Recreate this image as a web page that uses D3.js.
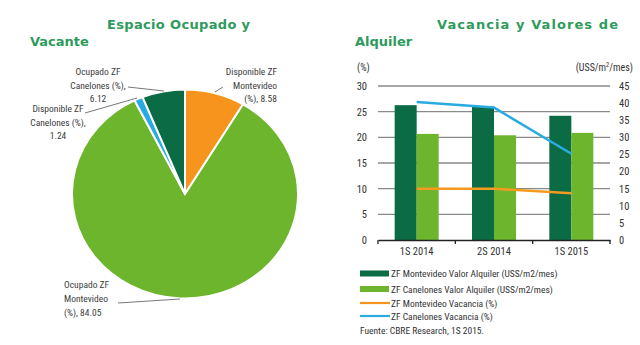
<!DOCTYPE html>
<html><head><meta charset="utf-8">
<script src="https://cdnjs.cloudflare.com/ajax/libs/d3/7.8.5/d3.min.js"></script>
<style>
html,body{margin:0;padding:0;background:#fff;}
svg{display:block;}
.cond{font-family:"Liberation Sans Narrow","Roboto Condensed","Arial Narrow",sans-serif;}
.title{font-family:"DejaVu Sans",sans-serif;font-weight:bold;fill:#2e9b5d;font-size:13px;}
</style>
</head><body>
<svg id="c" width="640" height="345"></svg>
<script>
// ---- Pie data ----
const pieLabels = ["Disponible ZF Montevideo (%)", "Ocupado ZF Montevideo (%)", "Disponible ZF Canelones (%)", "Ocupado ZF Canelones (%)"];
const pieValues = [8.58, 84.05, 1.24, 6.12];
const pieColors = ["#f7941d", "#6cb52d", "#29abe2", "#0b6b45"];

// ---- Bar/line data ----
const periods = ["1S 2014", "2S 2014", "1S 2015"];
const mvdAlquiler = [39.4, 38.9, 36.3];
const canAlquiler = [31.0, 30.6, 31.3];
const mvdVacancia = [10.0, 10.0, 9.1];
const canVacancia = [26.9, 25.8, 16.8];
const leftTicks = [0, 5, 10, 15, 20, 25, 30];
const rightTicks = [0, 5, 10, 15, 20, 25, 30, 35, 40, 45];
const legendItems = [
  {label: "ZF Montevideo Valor Alquiler (USS/m2/mes)", type: "bar", color: "#0b6b45"},
  {label: "ZF Canelones Valor Alquiler (USS/m2/mes)", type: "bar", color: "#6cb52d"},
  {label: "ZF Montevideo Vacancia (%)", type: "line", color: "#f7941d"},
  {label: "ZF Canelones Vacancia (%)", type: "line", color: "#29abe2"}
];

const svg = d3.select("#c");

// ===== Titles =====
svg.append("text").attr("class","title").attr("x",107).attr("y",29).attr("textLength",143).attr("lengthAdjust","spacing").text("Espacio Ocupado y");
svg.append("text").attr("class","title").attr("x",30).attr("y",46).text("Vacante");
svg.append("text").attr("class","title").attr("x",437).attr("y",29).attr("textLength",181).attr("lengthAdjust","spacing").text("Vacancia y Valores de");
svg.append("text").attr("class","title").attr("x",355).attr("y",46).text("Alquiler");

// ===== Pie =====
const pie = d3.pie().sort(null).value(d => d)(pieValues);
const arc = d3.arc().innerRadius(0).outerRadius(113);
const pg = svg.append("g").attr("transform","translate(185,194) scale(1,0.925)");
pg.selectAll("path").data(pie).join("path")
  .attr("d", arc).attr("fill",(d,i)=>pieColors[i])
  .attr("stroke","#fff").attr("stroke-width",2).attr("vector-effect","non-scaling-stroke");

const labelColor = "#3d3d3d";
function multiText(x, y, lines, anchor, lh){
  const t = svg.append("text").attr("class","cond").attr("font-size",9.5).attr("fill",labelColor).attr("text-anchor",anchor);
  lines.forEach((l,i)=> t.append("tspan").attr("x",x).attr("y",y+i*lh).text(l));
}
multiText(277, 75, ["Disponible ZF","Montevideo","(%),  " + pieValues[0].toFixed(2)], "end", 13.5);
multiText(98, 75, ["Ocupado ZF","Canelones (%),", pieValues[3].toFixed(2)], "middle", 13.5);
multiText(58, 112, ["Disponible ZF","Canelones (%),", pieValues[2].toFixed(2)], "middle", 13.5);
multiText(64, 288, ["Ocupado ZF","Montevideo","(%),  " + pieValues[1].toFixed(2)], "start", 14);

const leader = [[[215,92],[223,87]], [[128,87],[164,91]], [[85,113],[137,98]], [[118,303],[180,299]]];
svg.selectAll("path.leader").data(leader).join("path").attr("class","leader")
  .attr("d", d => d3.line()(d)).attr("stroke","#555").attr("stroke-width",0.8).attr("fill","none");

// ===== Bar chart =====
const x0 = d3.scaleBand().domain(periods).range([378, 610]).padding(0);
const x1 = d3.scaleBand().domain(["mvd","can"]).range([-22, 22]);
const yL = d3.scaleLinear().domain([0, 30]).range([240, 86]);
const yR = d3.scaleLinear().domain([0, 45]).range([240, 86]);

// gridlines
svg.append("g").selectAll("line").data(leftTicks.filter(t=>t>0)).join("line")
  .attr("x1",378).attr("x2",610).attr("y1",d=>yL(d)).attr("y2",d=>yL(d))
  .attr("stroke","#8a8a8a").attr("stroke-width",1.4);

// bars
const barData = [];
periods.forEach((p,i)=>{
  barData.push({p, s:"mvd", v:mvdAlquiler[i], c:"#0b6b45"});
  barData.push({p, s:"can", v:canAlquiler[i], c:"#6cb52d"});
});
svg.append("g").selectAll("rect").data(barData).join("rect")
  .attr("x", d => x0(d.p) + x0.bandwidth()/2 + x1(d.s))
  .attr("width", x1.bandwidth())
  .attr("y", d => yR(d.v)).attr("height", d => yR(0) - yR(d.v))
  .attr("fill", d => d.c);

// x axis
const xAxis = d3.axisBottom(x0).tickSize(0).tickPadding(8);
const gx = svg.append("g").attr("transform","translate(0,240)").call(xAxis);
gx.select(".domain").attr("stroke","#222").attr("stroke-width",1.3);
gx.selectAll("text").attr("class","cond").attr("font-size",10.5).attr("fill","#333");
// boundary ticks
const bounds = [378].concat(periods.map(p => x0(p) + x0.bandwidth()));
gx.selectAll("line.bt").data(bounds).join("line").attr("class","bt")
  .attr("x1",d=>d).attr("x2",d=>d).attr("y1",0).attr("y2",4).attr("stroke","#222").attr("stroke-width",1.3);

// left axis
const gl = svg.append("g").attr("transform","translate(367,0)")
  .call(d3.axisLeft(yL).tickValues(leftTicks).tickSize(0).tickPadding(0));
gl.select(".domain").remove();
gl.selectAll("text").attr("class","cond").attr("font-size",10.5).attr("fill","#333");
// right axis
const gr = svg.append("g").attr("transform","translate(619,0)")
  .call(d3.axisRight(yR).tickValues(rightTicks).tickSize(0).tickPadding(0));
gr.select(".domain").remove();
gr.selectAll("text").attr("class","cond").attr("font-size",10.5).attr("fill","#333");

svg.append("text").attr("class","cond").attr("x",357).attr("y",71).attr("font-size",10).attr("fill","#333").text("(%)");
const ut = svg.append("text").attr("class","cond").attr("x",633).attr("y",71).attr("font-size",10).attr("fill","#333").attr("text-anchor","end");
ut.append("tspan").text("(USS/m");
ut.append("tspan").attr("font-size",6.5).attr("dy",-4).text("2");
ut.append("tspan").attr("dy",4).text("/mes)");

// lines
const cx = p => x0(p) + x0.bandwidth()/2;
const lineGen = d3.line().x(d => cx(d.p)).y(d => yL(d.v));
svg.append("path").datum(periods.map((p,i)=>({p, v:mvdVacancia[i]})))
  .attr("d", lineGen).attr("fill","none").attr("stroke","#f39a1f").attr("stroke-width",2.5);
svg.append("path").datum(periods.map((p,i)=>({p, v:canVacancia[i]})))
  .attr("d", lineGen).attr("fill","none").attr("stroke","#29abe2").attr("stroke-width",2.5);

// legend
const ys = [273.5, 289, 303, 316];
const lg = svg.append("g");
legendItems.forEach((it,i)=>{
  if (it.type === "bar") {
    lg.append("rect").attr("x",360).attr("y",ys[i]-3).attr("width",29).attr("height",6).attr("fill",it.color);
  } else {
    lg.append("line").attr("x1",360).attr("x2",390).attr("y1",ys[i]).attr("y2",ys[i]).attr("stroke",it.color).attr("stroke-width",2.2);
  }
  lg.append("text").attr("class","cond").attr("x",391).attr("y",ys[i]+3.5).attr("font-size",9.5).attr("fill","#333").text(it.label);
});
svg.append("text").attr("class","cond").attr("x",360).attr("y",334).attr("font-size",9.5).attr("fill","#333").text("Fuente: CBRE Research, 1S 2015.");
</script>
</body></html>
